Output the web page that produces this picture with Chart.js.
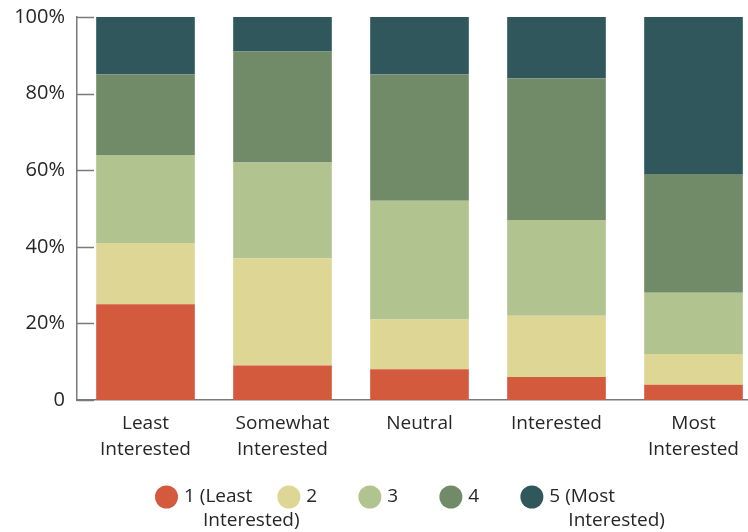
<!DOCTYPE html>
<html>
<head>
<meta charset="utf-8">
<title>Interest levels</title>
<script src="https://cdn.jsdelivr.net/npm/chart.js@4.4.1/dist/chart.umd.min.js"></script>
<style>
html, body { margin:0; padding:0; background:#fff; overflow:hidden; }
</style>
</head>
<body>
<canvas id="myChart" width="762" height="532"></canvas>
<script>
// categories along the x axis
const categories = [['Least', 'Interested'], ['Somewhat', 'Interested'], 'Neutral', 'Interested', ['Most', 'Interested']];
// legend names (two lines where the original wraps)
const seriesNames = [['1 (Least', 'Interested)'], ['2'], ['3'], ['4'], ['5 (Most', 'Interested)']];
// percent of respondents per rating, one array per rating
const level1 = [25, 9, 8, 6, 4];
const level2 = [16, 28, 13, 16, 8];
const level3 = [23, 25, 31, 25, 16];
const level4 = [21, 29, 33, 37, 31];
const level5 = [15, 9, 15, 16, 41];
const colors = ['#d35a3c', '#ddd695', '#b1c38e', '#718b68', '#30585c'];
const yTicks = [0, 20, 40, 60, 80, 100];

const textColor = '#262626';
const axisColor = '#7a7a7a';

// small ticks pointing into the plot, like the original
const innerTicks = {
  id: 'innerTicks',
  afterDatasetsDraw(chart) {
    const y = chart.scales.y, ctx = chart.ctx;
    ctx.save();
    ctx.strokeStyle = axisColor;
    ctx.lineWidth = 1.5;
    y.ticks.forEach((t, i) => {
      const py = Math.round(y.getPixelForTick(i)) + 0.5;
      ctx.beginPath();
      ctx.moveTo(y.right, py);
      ctx.lineTo(y.right + 17, py);
      ctx.stroke();
    });
    ctx.restore();
  }
};

// legend under the axis with round markers and wrapped names
const bottomLegend = {
  id: 'bottomLegend',
  afterDraw(chart) {
    const ctx = chart.ctx;
    ctx.save();
    ctx.font = '19px "Open Sans"';
    ctx.textBaseline = 'middle';
    let x = 155;
    const y = 497;
    chart.data.datasets.forEach((ds, i) => {
      const lines = seriesNames[i];
      ctx.fillStyle = ds.backgroundColor;
      ctx.beginPath();
      ctx.arc(x + 11.5, y, 11.5, 0, Math.PI * 2);
      ctx.fill();
      ctx.fillStyle = textColor;
      ctx.fillText(lines[0], x + 29, y);
      if (lines[1]) ctx.fillText(lines[1], x + 48, y + 24);
      x += Math.max(81, 29 + ctx.measureText(lines[0]).width + 25);
    });
    ctx.restore();
  }
};

const series = [level1, level2, level3, level4, level5];

var ctx = document.getElementById('myChart').getContext('2d');
var myChart = new Chart(ctx, {
  type: 'bar',
  data: {
    labels: categories,
    datasets: series.map((vals, i) => ({
      label: seriesNames[i].join(' '),
      data: vals,
      backgroundColor: colors[i],
      borderWidth: 0,
      barPercentage: 0.72,
      categoryPercentage: 1
    }))
  },
  options: {
    responsive: false,
    animation: false,
    layout: { padding: { top: 17, right: 0, bottom: 72, left: 0 } },
    plugins: { legend: { display: false }, tooltip: { enabled: false } },
    scales: {
      x: {
        stacked: true,
        grid: { display: false, drawTicks: false },
        border: { color: axisColor, width: 1.5 },
        ticks: { color: textColor, font: { family: 'Open Sans', size: 19, lineHeight: 1.4 }, padding: 10, maxRotation: 0, autoSkip: false },
        afterFit(s) { s.height = 60; s.paddingLeft = 0; s.paddingRight = 0; }
      },
      y: {
        stacked: true,
        min: 0,
        max: 100,
        grid: { display: false, drawTicks: false },
        border: { color: axisColor, width: 1.5 },
        afterBuildTicks(s) { s.ticks = yTicks.map(v => ({ value: v })); },
        ticks: {
          color: textColor,
          font: { family: 'Open Sans', size: 20 },
          padding: 12,
          callback: v => v === 0 ? '0' : v + '%'
        },
        afterFit(s) { s.width = 77; s.paddingTop = 0; s.paddingBottom = 0; }
      }
    }
  },
  plugins: [innerTicks, bottomLegend]
});
</script>
</body>
</html>
